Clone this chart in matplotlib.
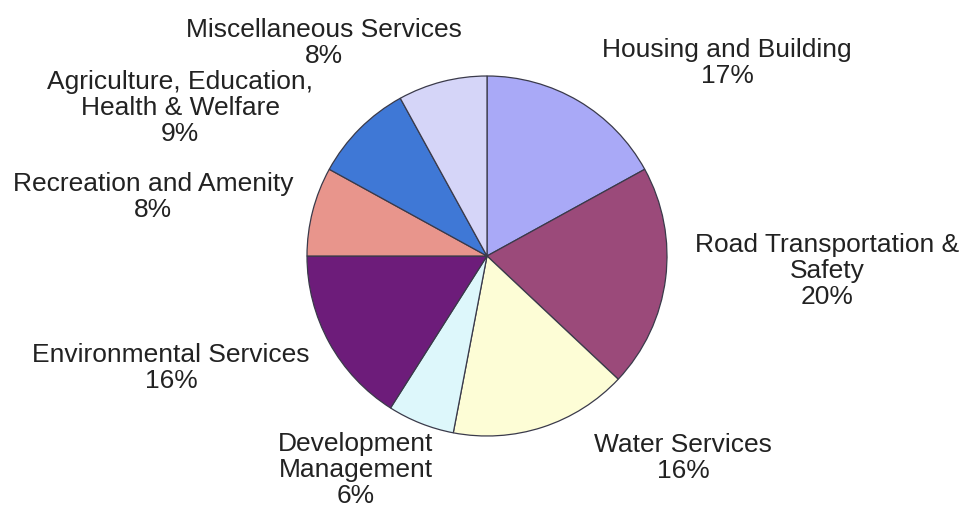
import matplotlib
matplotlib.use('Agg')
import matplotlib.pyplot as plt

# Budget shares by service area, clockwise from 12 o'clock.
categories = ['Housing and Building', 'Road Transportation &\nSafety', 'Water Services',
              'Development\nManagement', 'Environmental Services', 'Recreation and Amenity',
              'Agriculture, Education,\nHealth & Welfare', 'Miscellaneous Services']
shares = [17, 20, 16, 6, 16, 8, 9, 8]
colors = ['#a9a9f7', '#9b4a7a', '#fdfdd6', '#ddf7fb', '#6d1c7a', '#e8958c', '#3f78d6', '#d5d5f8']

# Label anchor (pixel x, pixel y of block centre) for each category.
label_pos = [(727, 63), (827, 271), (683, 458), (356, 470),
             (171, 368), (153, 197), (180, 108), (324, 43)]

W, H = 963, 512
plt.rcParams['font.family'] = ['Liberation Sans', 'DejaVu Sans']
fig = plt.figure(figsize=(W / 100, H / 100), dpi=100)
fig.patch.set_facecolor('white')

# Pie centre and radius in pixels.
cx, cy, r = 487, 256, 180
ax = fig.add_axes([(cx - r) / W, (H - cy - r) / H, 2 * r / W, 2 * r / H])
ax.pie(shares, colors=colors, startangle=90, counterclock=False, radius=1,
       wedgeprops=dict(edgecolor='#3a3a4a', linewidth=0.9))
ax.set_xlim(-1, 1)
ax.set_ylim(-1, 1)
ax.axis('off')

for name, val, (px, py) in zip(categories, shares, label_pos):
    fig.text(px / W, 1 - py / H, f'{name}\n{val}%', ha='center', va='center',
             fontsize=19, color='#222222', linespacing=1.08)

fig.savefig('out.png', dpi=100)
